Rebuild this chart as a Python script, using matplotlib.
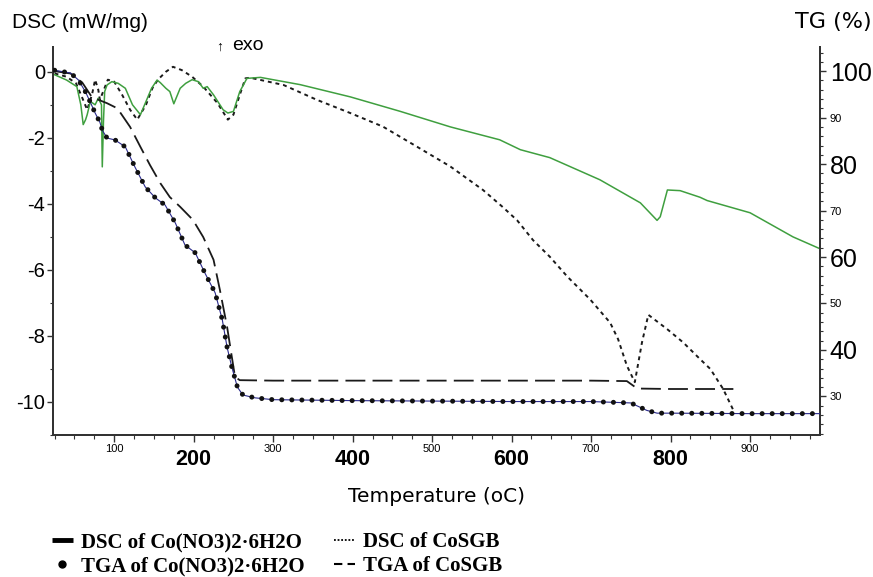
import matplotlib
matplotlib.use("Agg")
import matplotlib.pyplot as plt
from matplotlib.lines import Line2D
from matplotlib.ticker import MultipleLocator
import warnings
warnings.filterwarnings("ignore")

# ---------------- data ----------------
# DSC of Co(NO3)2·6H2O (left axis, mW/mg)
dsc_co_T = [25, 40, 53, 58, 61, 64, 66, 70, 76, 80, 84, 85, 86.5, 88, 91, 97, 105, 114,
            123, 133, 140, 147, 154, 158, 165, 170, 175, 183, 190, 198, 206, 212, 217,
            225, 237, 243, 250, 258, 267, 284, 334, 397, 460, 523, 585, 611, 648, 711,
            762, 783, 787, 796, 812, 837, 846, 900, 954, 988]
dsc_co = [-0.09, -0.25, -0.45, -1.0, -1.6, -1.45, -1.3, -0.9, -1.0, -0.8, -1.0, -2.88,
          -1.5, -0.6, -0.4, -0.3, -0.35, -0.5, -1.0, -1.3, -0.9, -0.5, -0.25, -0.33,
          -0.5, -0.6, -0.97, -0.5, -0.35, -0.24, -0.3, -0.5, -0.45, -0.7, -1.15, -1.25,
          -1.2, -0.6, -0.2, -0.17, -0.39, -0.76, -1.2, -1.67, -2.06, -2.36, -2.6, -3.27,
          -3.97, -4.5, -4.39, -3.58, -3.6, -3.8, -3.9, -4.27, -5.0, -5.36]

# DSC of CoSGB (left axis, mW/mg)
dsc_sgb_T = [25, 40, 52, 60, 66, 72, 76, 80, 82, 92, 100, 110, 120, 129, 140, 148, 155,
             165, 174, 185, 198, 212, 230, 243, 250, 258, 265, 271, 313, 355, 397, 438,
             481, 523, 564, 589, 607, 627, 648, 670, 699, 724, 734, 745, 755, 764, 772,
             796, 816, 837, 850, 866, 879]
dsc_sgb = [-0.05, -0.15, -0.35, -0.8, -1.15, -0.7, -0.24, -0.55, -0.85, -0.24, -0.3,
           -0.7, -1.15, -1.45, -1.0, -0.5, -0.24, 0.0, 0.15, 0.05, -0.15, -0.45, -0.95,
           -1.45, -1.3, -0.7, -0.2, -0.18, -0.4, -0.85, -1.25, -1.66, -2.27, -2.87,
           -3.58, -4.1, -4.5, -5.1, -5.6, -6.2, -6.9, -7.6, -8.1, -8.9, -9.4, -8.2,
           -7.36, -7.8, -8.2, -8.7, -9.0, -9.6, -10.25]

# TGA of Co(NO3)2·6H2O (right axis, %)
tga_co_T = [25, 45, 55, 64, 70, 76, 82, 85, 91, 101, 114, 126, 139, 152, 164, 177, 189,
            202, 214, 227, 236, 242, 248, 255, 262, 277, 300, 400, 500, 600, 700, 750,
            760, 770, 783, 800, 900, 988]
tga_co = [100.2, 99.6, 98.1, 95.5, 93.3, 91, 89, 87.3, 85.6, 85.2, 83.7, 79.4, 75.1,
          72.7, 71.2, 67.3, 62.6, 60.9, 56.6, 52.3, 46.5, 40.6, 36.3, 32, 30.3, 29.7,
          29.3, 29.1, 29.0, 28.9, 28.9, 28.6, 27.8, 27.0, 26.4, 26.4, 26.3, 26.3]

# TGA of CoSGB (right axis, %)
tga_sgb_T = [25, 45, 60, 72, 91, 104, 120, 133, 145, 158, 170, 183, 199, 212, 225, 233,
             242, 248, 252, 258, 300, 400, 500, 600, 700, 745, 758, 800, 879]
tga_sgb = [100, 99.5, 97.5, 94.4, 93.1, 92, 88, 83.7, 79.8, 75.9, 72.9, 70.8, 68, 64.3,
           59.4, 52.9, 45, 38.5, 34.2, 33.5, 33.4, 33.4, 33.4, 33.4, 33.4, 33.3, 31.7,
           31.6, 31.6]

x_ticks = [100, 200, 300, 400, 500, 600, 700, 800, 900]
x_labels = ["100", "200", "300", "400", "500", "600", "700", "800", "900"]
left_ticks = [0, -2, -4, -6, -8, -10]
left_labels = ["0", "-2", "-4", "-6", "-8", "-10"]
right_ticks = [100, 90, 80, 70, 60, 50, 40, 30]
right_labels = ["100", "90", "80", "70", "60", "50", "40", "30"]

legend_labels = ["DSC of Co(NO3)2·6H2O", "TGA of Co(NO3)2·6H2O",
                 "DSC of CoSGB", "TGA of CoSGB"]

# ---------------- figure ----------------
W, H = 873, 577
fig = plt.figure(figsize=(W / 100, H / 100), dpi=100)
L, R, T, B = 53, 820, 47, 435
ax = fig.add_axes([L / W, 1 - B / H, (R - L) / W, (B - T) / H])
ax2 = ax.twinx()

sans = ["Liberation Sans", "DejaVu Sans"]
serif = ["Liberation Serif", "DejaVu Serif"]
spine_c = "#333333"

ax.plot(dsc_co_T, dsc_co, color="#3f9f3f", lw=1.1, zorder=3)
ax.plot(dsc_sgb_T, dsc_sgb, color="#1a1a1a", lw=1.4, linestyle=(0, (2.0, 2.0)), zorder=2)

ax2.plot(tga_sgb_T, tga_sgb, color="#1a1a1a", lw=1.3, linestyle=(0, (11, 4)), zorder=2)
ax2.plot(tga_co_T, tga_co, color="#2a2a8c", lw=0.8, zorder=3)
ax2.plot(tga_co_T, tga_co, color="#111111", lw=3.6, linestyle=(0, (0.01, 2.0)),
         dash_capstyle="round", zorder=4)

ax.set_xlim(23, 988)
ax.set_ylim(-11, 0.75)
ax2.set_ylim(21.7, 105.2)

for a in (ax, ax2):
    a.spines["top"].set_visible(False)
    for s in ("left", "right", "bottom"):
        a.spines[s].set_color(spine_c)
        a.spines[s].set_linewidth(1.4)

ax.set_xticks(x_ticks)
ax.set_xticklabels(x_labels)
ax.xaxis.set_minor_locator(MultipleLocator(25))
ax.tick_params(axis="x", which="major", direction="out", length=5, width=1,
               color=spine_c, pad=5)
ax.tick_params(axis="x", which="minor", direction="out", length=3, width=0.8,
               color=spine_c)
for lbl, t in zip(ax.get_xticklabels(), x_ticks):
    lbl.set_family(sans)
    if t % 200 == 0:
        lbl.set_fontsize(15.5)
        lbl.set_fontweight("bold")
    else:
        lbl.set_fontsize(8)
        lbl.set_y(0.012)

ax.set_yticks(left_ticks)
ax.set_yticklabels(left_labels)
ax.yaxis.set_minor_locator(MultipleLocator(1))
ax.tick_params(axis="y", which="major", direction="out", length=4, width=1,
               color=spine_c, pad=1.5, labelsize=14.5)
ax.tick_params(axis="y", which="minor", direction="out", length=2.5, width=0.8,
               color=spine_c)
for lbl in ax.get_yticklabels():
    lbl.set_family(sans)

ax2.set_yticks(right_ticks)
ax2.set_yticklabels(right_labels)
ax2.yaxis.set_minor_locator(MultipleLocator(2))
ax2.tick_params(axis="y", which="major", direction="out", length=4, width=1,
                color=spine_c, pad=3)
ax2.tick_params(axis="y", which="minor", direction="out", length=2.5, width=0.8,
                color=spine_c)
for lbl, t in zip(ax2.get_yticklabels(), right_ticks):
    lbl.set_family(sans)
    if t % 20 == 0:
        lbl.set_fontsize(18)
    else:
        lbl.set_fontsize(8)

# axis titles
fig.text(12 / W, 1 - 22 / H, "DSC (mW/mg)", fontsize=15, family=sans,
         ha="left", va="center")
fig.text(795 / W, 1 - 22 / H, "TG (%)", fontsize=16, family=["DejaVu Sans"],
         ha="left", va="center")
fig.text(437 / W, 1 - 497 / H, "Temperature (oC)", fontsize=14.5,
         family=["DejaVu Sans"], ha="center", va="center")
fig.text(216 / W, 1 - 47 / H, "↑", fontsize=10, family=sans,
         ha="left", va="center")
fig.text(232 / W, 1 - 46 / H, "exo", fontsize=14, family=sans,
         ha="left", va="center")

# legend (proxy handles)
handles = [
    Line2D([], [], color="black", lw=3.5, solid_capstyle="butt"),
    Line2D([], [], color="black", marker="o", markersize=5, linestyle="none"),
    Line2D([], [], color="black", lw=1.3, linestyle=(0, (1, 1))),
    Line2D([], [], color="black", lw=1.5, linestyle=(0, (4, 2.5))),
]
leg = fig.legend(handles, legend_labels, ncol=2, loc="upper left",
                 bbox_to_anchor=(52 / W, 1 - 532 / H), frameon=False,
                 prop={"family": serif, "weight": "bold", "size": 15},
                 handlelength=1.0, handletextpad=0.4, columnspacing=1.4,
                 labelspacing=0.2, borderpad=0, borderaxespad=0, numpoints=1)

fig.savefig("out.png", dpi=100)
